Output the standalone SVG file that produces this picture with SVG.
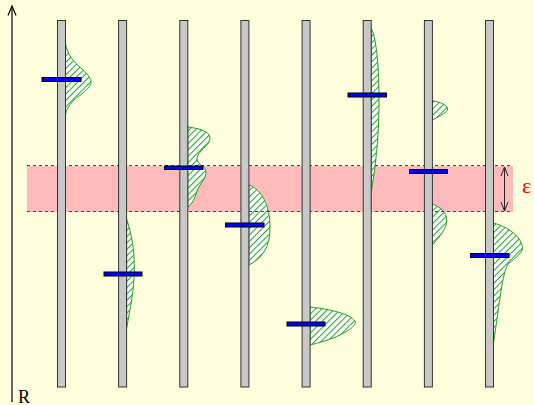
<svg xmlns="http://www.w3.org/2000/svg" width="534" height="405" viewBox="0 0 534 405">
<style>
.bar{fill:#c8c8c8;stroke:#333;stroke-width:1}
.mk{fill:#0000ee;stroke:#000;stroke-width:1}
.dist{fill:url(#hatch);stroke:#22a022;stroke-width:1}
.dash{stroke:#444;stroke-width:1;stroke-dasharray:3,3;fill:none}
.ln{stroke:#000;stroke-width:1.2;fill:none}
</style>
<defs>
<pattern id="hatch" patternUnits="userSpaceOnUse" width="4.5" height="10" patternTransform="rotate(45)">
<rect x="0" y="0" width="4.5" height="10" fill="#fff"/>
<line x1="0.5" y1="0" x2="0.5" y2="10" stroke="#22a022" stroke-width="1"/>
</pattern>
<marker id="open" markerWidth="10" markerHeight="10" refX="9" refY="5" orient="auto-start-reverse" markerUnits="userSpaceOnUse">
<path d="M0,1.5 L9,5 L0,8.5" fill="none" stroke="#222" stroke-width="1"/>
</marker>
</defs>
<rect width="534" height="405" fill="#ffffdd"/>
<g id="band">
<rect x="27" y="166" width="486" height="46" fill="#ffbbbb"/>
</g>
<g id="shapes">
<path class="dist" d="M65.5,43 C67,55 74,62 82,69 C89,75 91,79 91,82 C91,86 86,91 79,96 C72,101 67,107 65.5,115 Z"/>
<path class="dist" d="M126.6,219 C132,235 134.3,250 134.3,267 C134.3,290 130,310 126.6,328 Z"/>
<path class="dist" d="M187.8,127 C195,128 210,130 210,138 C210,146 197,151 197,159 C197,165 206,166 206,172 C206,180 198,185 196,194 C194,200 191,205 187.8,207 Z"/>
<path class="dist" d="M248.9,185 C262,190 270,205 270,228 C270,248 262,258 248.9,265 Z"/>
<path class="dist" d="M310.1,307 C330,309 350,314 355,321 C357,325 350,330 340,335 C330,340 318,343 310.1,345 Z"/>
<path class="dist" d="M371.2,28 C377,40 379,70 379,100 C379,140 375,170 371.2,192 Z"/>
<path class="dist" d="M432.4,100.7 C440,102 447.7,105 447.7,109 C447.7,112 440,116 432.4,120 Z"/>
<path class="dist" d="M432.4,204 C440,207 446.7,212 446.7,220 C446.7,230 438,238 432.4,245 Z"/>
<path class="dist" d="M493.5,223 C505,226 519,234 522,245 C525,252 515,258 508,264 C502,275 500,300 493.5,343 Z"/>
</g>
<g id="band-lines">
<line class="dash" x1="27" y1="165.5" x2="513" y2="165.5"/>
<line class="dash" x1="27" y1="211.5" x2="513" y2="211.5"/>
</g>
<g id="bar1"><rect class="bar" x="57.5" y="20.5" width="8" height="366.5"/><rect class="mk" x="42" y="77.5" width="39" height="4"/></g>
<g id="bar2"><rect class="bar" x="118.6" y="20.5" width="8" height="366.5"/><rect class="mk" x="104" y="272" width="38" height="4"/></g>
<g id="bar3"><rect class="bar" x="179.8" y="20.5" width="8" height="366.5"/><rect class="mk" x="164.5" y="166" width="38.5" height="3.5"/></g>
<g id="bar4"><rect class="bar" x="240.9" y="20.5" width="8" height="366.5"/><rect class="mk" x="225.5" y="223" width="38.5" height="4"/></g>
<g id="bar5"><rect class="bar" x="302.1" y="20.5" width="8" height="366.5"/><rect class="mk" x="287" y="322" width="38" height="4"/></g>
<g id="bar6"><rect class="bar" x="363.2" y="20.5" width="8" height="366.5"/><rect class="mk" x="348" y="93" width="38.5" height="4"/></g>
<g id="bar7"><rect class="bar" x="424.4" y="20.5" width="8" height="366.5"/><rect class="mk" x="409.5" y="169.5" width="38" height="4"/></g>
<g id="bar8"><rect class="bar" x="485.5" y="20.5" width="8" height="366.5"/><rect class="mk" x="470.5" y="253.5" width="38.5" height="4"/></g>
<g id="connectors">
<line class="ln" x1="12" y1="6" x2="12" y2="402"/>
<path class="ln" d="M8,15.5 L12,6 L16,15.5"/>
<line x1="504.5" y1="167" x2="504.5" y2="211" stroke="#222" stroke-width="1" marker-start="url(#open)" marker-end="url(#open)"/>
</g>
<g id="labels">
<text x="18" y="402.5" font-family="Liberation Serif, serif" font-size="18" fill="#000">R</text>
<text x="522" y="192.5" font-family="Liberation Serif, serif" font-size="22" fill="#ee0000">ε</text>
</g>
</svg>
